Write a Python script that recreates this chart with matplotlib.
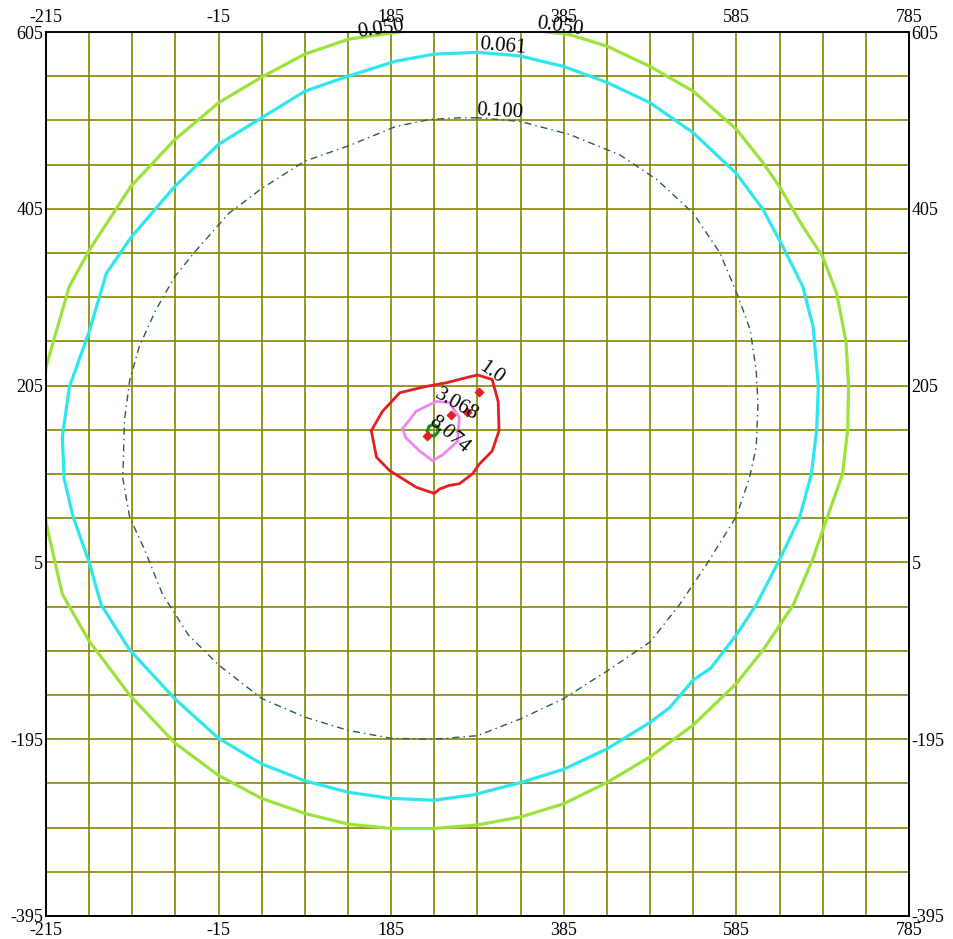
import matplotlib.pyplot as plt
import numpy as np

plt.rcParams['font.family'] = ['Liberation Serif', 'DejaVu Serif']
plt.rcParams['axes.unicode_minus'] = False

# isopleth polylines (x, y) in metres
c050_x = [392, 275, 194, 136, 85, 35, -15, -66, -117, -165, -188, -215, -222, -215, -196, -165,
          -118, -66, -15, 35, 85, 135, 185, 235, 285, 335, 385, 435, 485, 535, 585, 616, 651,
          674, 685, 708, 714, 715, 712, 701, 685, 662, 635, 616, 585, 535, 485, 435, 392]
c050_y = [602, 616, 605, 597, 580, 554, 525, 483, 430, 358, 317, 226, 140, 50, -31, -84,
          -145, -199, -236, -262, -279, -291, -296, -296, -292, -283, -268, -244, -215, -179, -132, -94, -43,
          10, 41, 105, 155, 205, 255, 310, 351, 385, 430, 457, 495, 538, 566, 589, 602]

c061_x = [285, 235, 190, 135, 85, 35, -15, -66, -117, -145, -165, -188, -196, -194, -184, -165,
          -151, -118, -66, -15, 35, 85, 135, 185, 235, 280, 335, 385, 435, 485, 508, 535, 555,
          585, 608, 635, 658, 672, 678, 680, 674, 662, 639, 616, 585, 535, 485, 435, 385, 334, 285]
c061_y = [582, 580, 572, 555, 538, 508, 478, 430, 372, 332, 266, 203, 147, 100, 58, 5,
          -43, -94, -149, -194, -223, -242, -255, -262, -264, -258, -244, -229, -206, -176, -159, -128, -115,
          -77, -43, 8, 55, 105, 155, 205, 271, 317, 362, 404, 445, 491, 525, 548, 566, 578, 582]

c100_x = [285, 264, 229, 190, 135, 85, 35, -3, -41, -66, -88, -107, -118, -124, -126, -118, -101,
          -80, -50, -15, 35, 85, 135, 185, 235, 285, 335, 385, 435, 485, 519, 550, 585, 600,
          608, 610, 608, 601, 587, 566, 535, 493, 450, 392, 334, 285]
c100_y = [508, 508, 506, 498, 476, 459, 428, 400, 358, 328, 290, 249, 211, 166, 100, 56, 20,
          -31, -77, -111, -149, -170, -185, -194, -195, -191, -172, -149, -118, -85, -43, 2, 57, 100,
          135, 184, 222, 268, 306, 355, 400, 438, 466, 489, 504, 508]

c1_x = [162, 175, 195, 225, 248, 272, 285, 302, 309, 310, 302, 287, 279, 264, 252, 241, 235,
        214, 183, 168, 162]
c1_y = [154, 176, 197, 204, 208, 214, 217, 212, 187, 154, 131, 116, 105, 94, 92, 88, 83,
        90, 109, 124, 154]

c3_x = [198, 214, 237, 252, 264, 262, 245, 233, 218, 202, 198]
c3_y = [156, 176, 187, 186, 169, 142, 127, 120, 131, 146, 156]

c8_x = [227, 229, 234, 239, 239, 235, 229, 227]
c8_y = [154, 159, 161, 158, 152, 148, 149, 154]

src_x = [287, 273, 254, 227]
src_y = [198, 175, 172, 148]

# contour labels: text, x, y, rotation
lab_text = ['0.050', '0.050', '0.061', '0.100', '1.0', '3.068', '8.074']
lab_x = [173, 381, 315, 311, 301, 261, 252]
lab_y = [608, 611, 588, 515, 219, 183, 149]
lab_rot = [8, -8, -5, -3, -35, -30, -40]

fig = plt.figure(figsize=(9.54, 9.39), dpi=100)
ax = fig.add_axes([0.0482, 0.0245, 0.9046, 0.9414])

ax.set_xlim(-215, 785)
ax.set_ylim(-395, 605)
ax.set_xticks(np.arange(-215, 786, 200))
ax.set_yticks(np.arange(-395, 606, 200))
ax.set_xticks(np.arange(-215, 786, 50), minor=True)
ax.set_yticks(np.arange(-395, 606, 50), minor=True)
ax.grid(which='both', color='#858500', lw=1.2)
ax.set_axisbelow(True)
ax.tick_params(which='both', length=0, labelsize=13, top=True, right=True,
               labeltop=True, labelright=True)
ax.tick_params(axis='x', which='major', pad=4)
ax.tick_params(axis='y', which='major', pad=2)
for s in ax.spines.values():
    s.set_color('black')
    s.set_linewidth(1.4)

ax.plot(c050_x, c050_y, color='#9be33a', lw=2.3, solid_joinstyle='round')
ax.plot(c061_x, c061_y, color='#2ee6ee', lw=2.3, solid_joinstyle='round')
ax.plot(c100_x, c100_y, color='#2a5a5a', lw=1.0, dashes=(5, 3, 1, 3))
ax.plot(c1_x, c1_y, color='#e41f1f', lw=2.0, solid_joinstyle='round')
ax.plot(c3_x, c3_y, color='#ee88ee', lw=2.0, solid_joinstyle='round')
ax.plot(c8_x, c8_y, color='#1c8a1c', lw=2.3)
ax.scatter(src_x, src_y, marker='D', s=18, color='#e41f1f', zorder=4)

for t, x, y, r in zip(lab_text, lab_x, lab_y, lab_rot):
    ax.text(x, y, t, fontsize=15, rotation=r, ha='center', va='center',
            clip_on=False, zorder=5)

fig.savefig('out.png', dpi=100)
